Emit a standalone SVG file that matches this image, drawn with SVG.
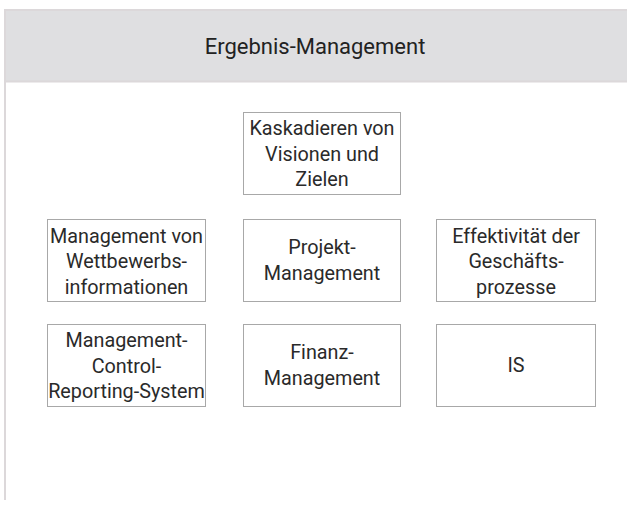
<svg xmlns="http://www.w3.org/2000/svg" width="627" height="505" viewBox="0 0 627 505">
  <style>
    .frame { fill: none; stroke: #dcd8da; stroke-width: 2; }
    .band { fill: #dfdfe1; }
    .title { font-family: Roboto, "Liberation Sans", sans-serif; font-size: 22px; fill: #222; text-anchor: middle; }
    .box { fill: #ffffff; stroke: #a8a8a8; stroke-width: 1; }
    .lbl { font-family: Roboto, "Liberation Sans", sans-serif; font-size: 19.8px; fill: #2a2a2a; text-anchor: middle; }
  </style>
  <rect width="627" height="505" fill="#ffffff"/>

  <!-- header band with outer frame -->
  <g id="header">
    <rect class="band" x="5" y="10" width="622" height="71"/>
    <line class="frame" x1="4" y1="10" x2="627" y2="10"/>
    <line class="frame" x1="5" y1="9" x2="5" y2="500"/>
    <line class="frame" x1="5" y1="81.5" x2="627" y2="81.5"/>
    <text class="title" x="315" y="54">Ergebnis-Management</text>
  </g>

  <g id="connectors"></g>

  <g id="kaskadieren">
    <rect class="box" x="243.5" y="112.5" width="157" height="82"/>
    <text class="lbl" x="322" y="135">Kaskadieren von</text>
    <text class="lbl" x="322" y="161">Visionen und</text>
    <text class="lbl" x="322" y="186">Zielen</text>
  </g>

  <g id="wettbewerb">
    <rect class="box" x="47.5" y="219.5" width="158" height="82"/>
    <text class="lbl" x="126.5" y="243">Management von</text>
    <text class="lbl" x="126.5" y="268">Wettbewerbs-</text>
    <text class="lbl" x="126.5" y="294">informationen</text>
  </g>

  <g id="projekt">
    <rect class="box" x="243.5" y="219.5" width="157" height="82"/>
    <text class="lbl" x="322" y="254">Projekt-</text>
    <text class="lbl" x="322" y="280">Management</text>
  </g>

  <g id="effektivitaet">
    <rect class="box" x="436.5" y="219.5" width="159" height="82"/>
    <text class="lbl" x="516" y="243">Effektivität der</text>
    <text class="lbl" x="516" y="268">Geschäfts-</text>
    <text class="lbl" x="516" y="294">prozesse</text>
  </g>

  <g id="controlreporting">
    <rect class="box" x="47.5" y="324.5" width="158" height="82"/>
    <text class="lbl" x="126.5" y="347">Management-</text>
    <text class="lbl" x="126.5" y="373">Control-</text>
    <text class="lbl" x="126.5" y="398">Reporting-System</text>
  </g>

  <g id="finanz">
    <rect class="box" x="243.5" y="324.5" width="157" height="82"/>
    <text class="lbl" x="322" y="359">Finanz-</text>
    <text class="lbl" x="322" y="385">Management</text>
  </g>

  <g id="is">
    <rect class="box" x="436.5" y="324.5" width="159" height="82"/>
    <text class="lbl" x="516" y="372">IS</text>
  </g>
</svg>
